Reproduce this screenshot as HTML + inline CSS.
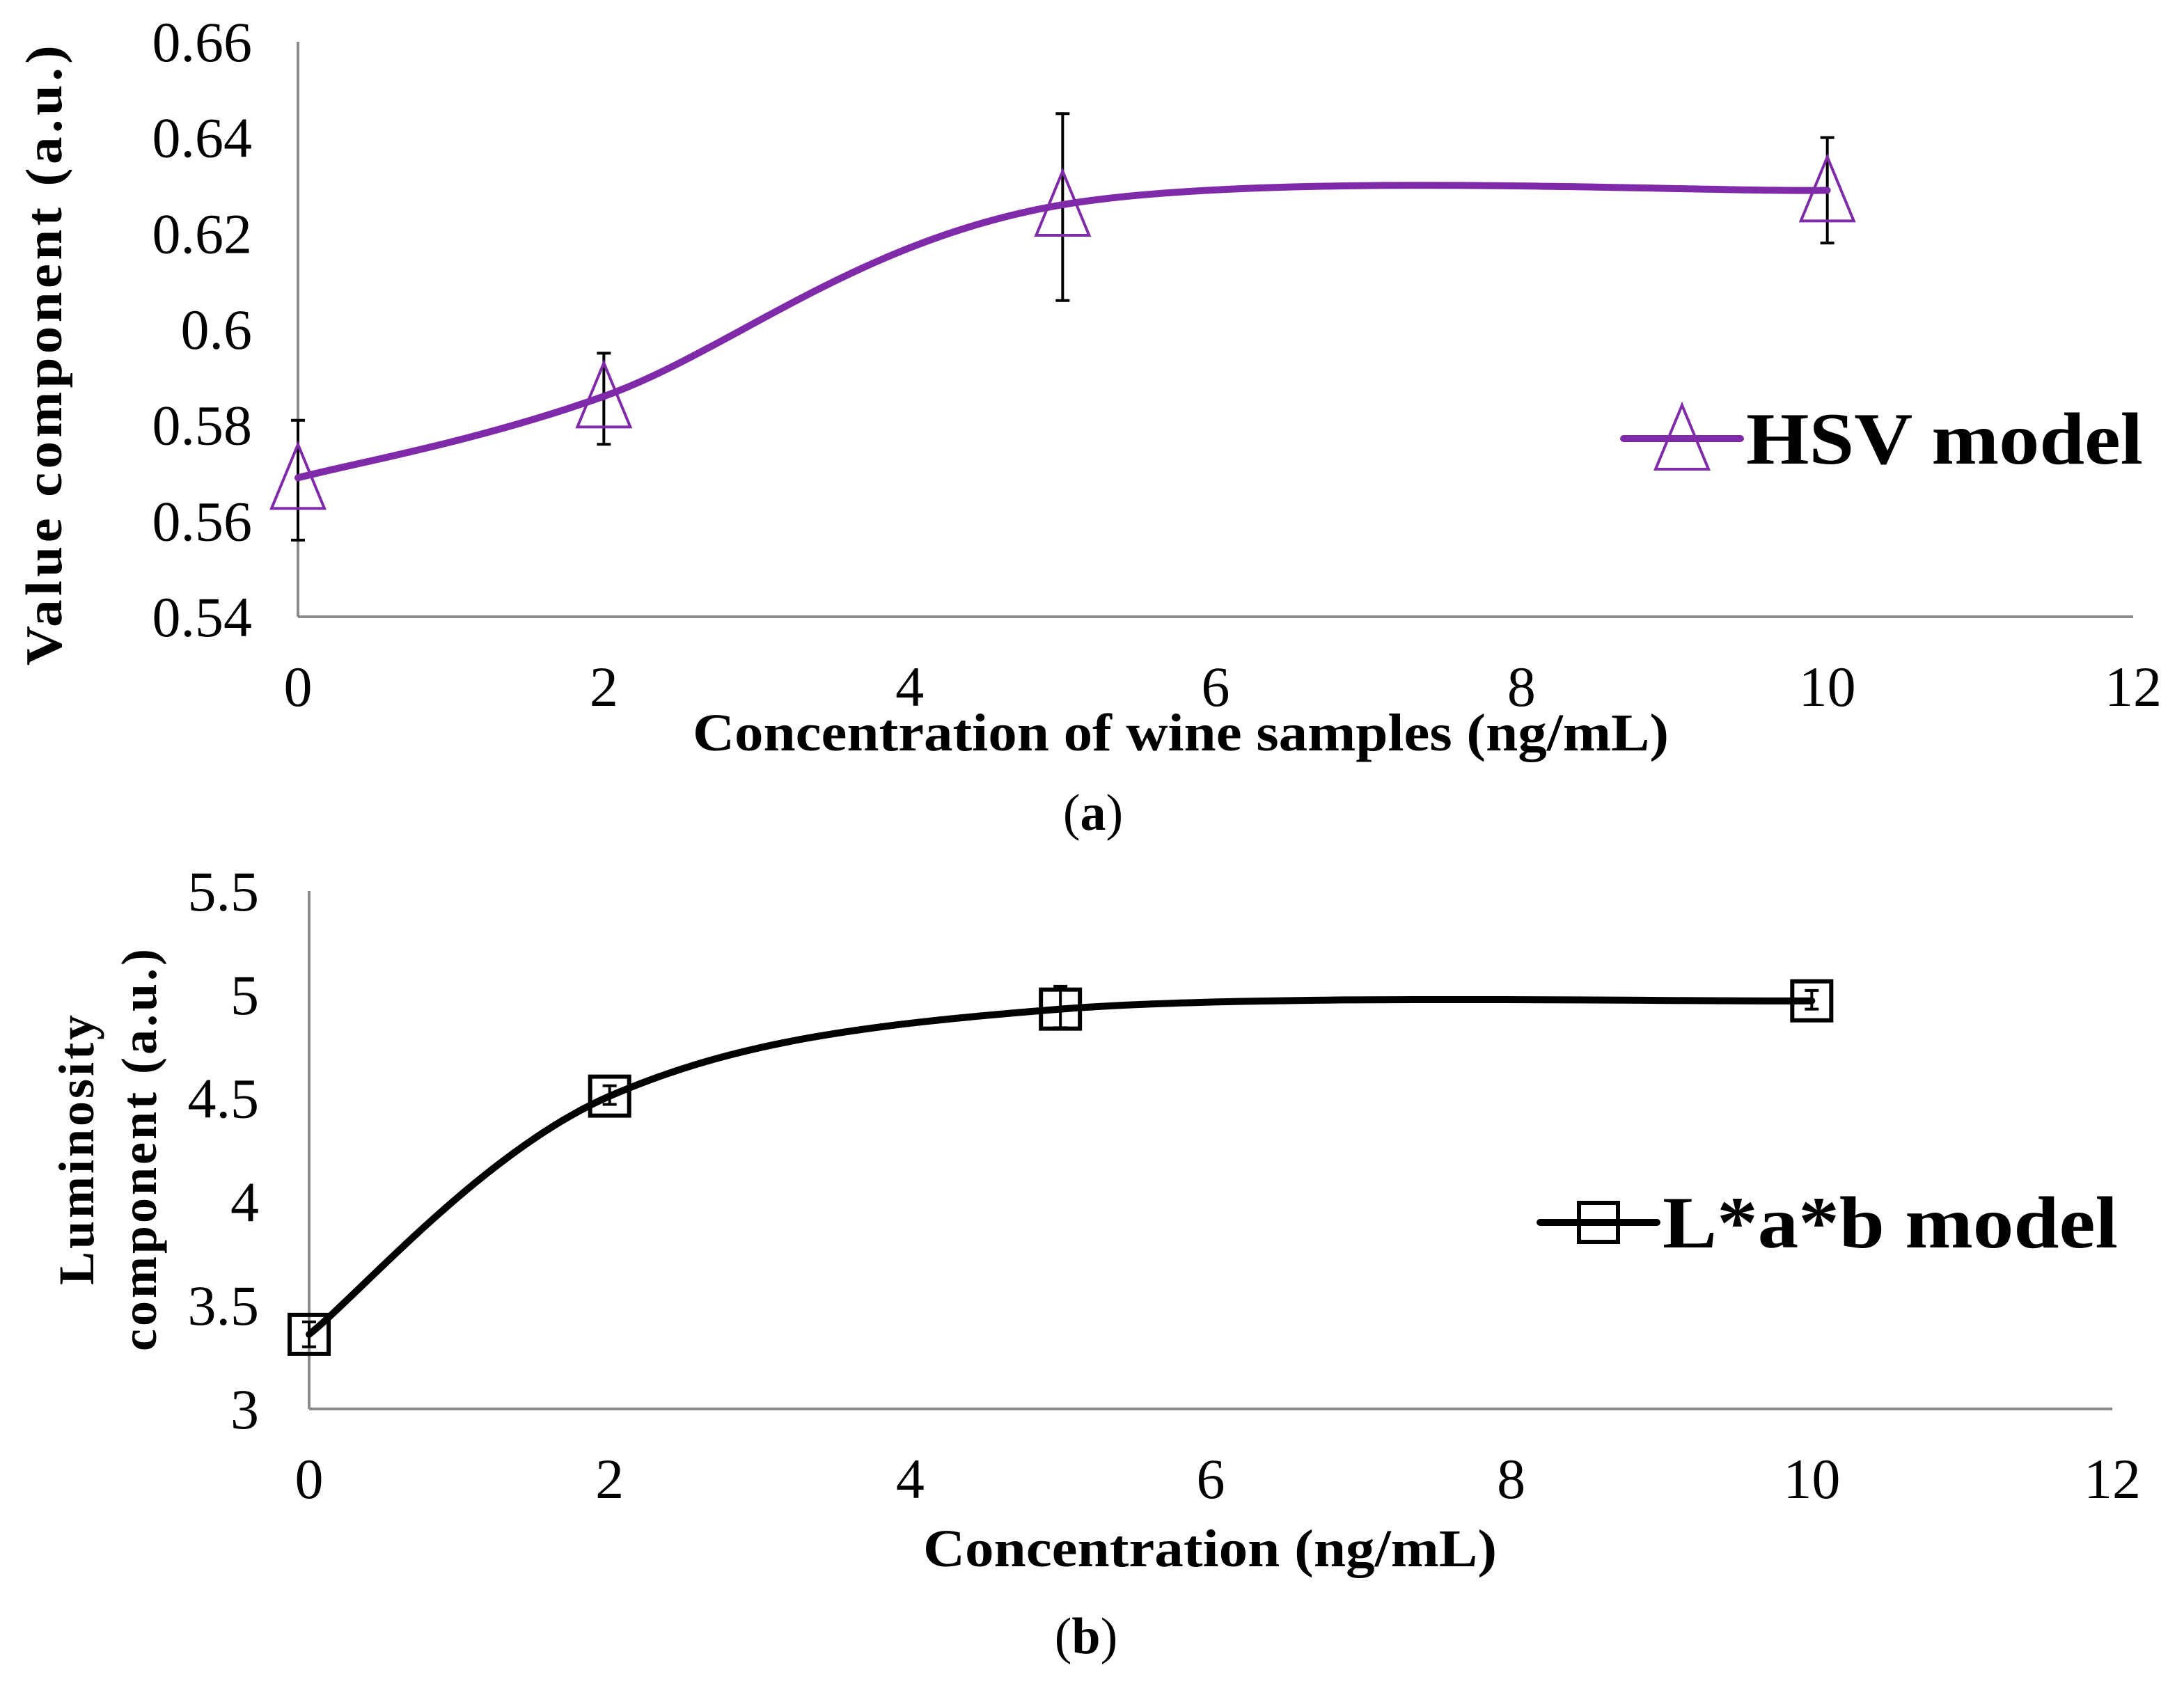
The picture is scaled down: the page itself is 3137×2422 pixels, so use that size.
<!DOCTYPE html>
<html><head><meta charset="utf-8"><style>
html,body{margin:0;padding:0;background:#fff}
svg{display:block}
text{font-family:"Liberation Serif",serif;fill:#000}
</style></head><body>
<svg id="svg" width="3137" height="2422" viewBox="0 0 3137 2422" xmlns="http://www.w3.org/2000/svg">
<g id="A"></g>
<g id="B"></g>
<text x="1570" y="1192" font-size="74" text-anchor="middle">(<tspan font-weight="bold">a</tspan>)</text>
<text x="1560" y="2375" font-size="74" text-anchor="middle">(<tspan font-weight="bold">b</tspan>)</text>
</svg>
<script>
const xCats = [0, 2, 5, 10];
const xTicks = [0, 2, 4, 6, 8, 10, 12];
const hsvValues = [0.569, 0.586, 0.626, 0.629];
const hsvErrLow = [0.556, 0.576, 0.606, 0.618];
const hsvErrHigh = [0.581, 0.595, 0.645, 0.640];
const hsvTicks = [0.54, 0.56, 0.58, 0.6, 0.62, 0.64, 0.66];
const hsvTickLabels = ["0.54","0.56","0.58","0.6","0.62","0.64","0.66"];
const labValues = [3.36, 4.51, 4.93, 4.97];
const labErrLow = [3.30, 4.47, 4.84, 4.93];
const labErrHigh = [3.42, 4.56, 5.04, 5.02];
const labTicks = [3, 3.5, 4, 4.5, 5, 5.5];
const labTickLabels = ["3","3.5","4","4.5","5","5.5"];

const NS = "http://www.w3.org/2000/svg";
function mk(parent, tag, attrs, txt){
  const e = document.createElementNS(NS, tag);
  for (const k in attrs) e.setAttribute(k, attrs[k]);
  if (txt !== undefined) e.textContent = txt;
  parent.appendChild(e); return e;
}
function smooth(pts){
  let d = "M" + pts[0][0] + "," + pts[0][1];
  for (let i = 0; i < pts.length - 1; i++){
    const p0 = pts[Math.max(i-1,0)], p1 = pts[i], p2 = pts[i+1], p3 = pts[Math.min(i+2, pts.length-1)];
    const t = 1/6;
    const c1 = [p1[0] + (p2[0]-p0[0])*t, p1[1] + (p2[1]-p0[1])*t];
    const c2 = [p2[0] - (p3[0]-p1[0])*t, p2[1] - (p3[1]-p1[1])*t];
    d += " C" + c1 + " " + c2 + " " + p2;
  }
  return d;
}
function chart(g, cfg){
  const X = v => cfg.x0 + (v - 0) / 12 * (cfg.x1 - cfg.x0);
  const Y = v => cfg.yb + (v - cfg.ymin) / (cfg.ymax - cfg.ymin) * (cfg.yt - cfg.yb);
  let e;
  e = mk(g, "line", {x1:X(0), y1:cfg.yt, x2:X(0), y2:cfg.yb, stroke:"#8c8c8c", "stroke-width":4});
  
  
  e = mk(g, "line", {x1:X(0), y1:cfg.yb, x2:cfg.x1, y2:cfg.yb, stroke:"#8c8c8c", "stroke-width":4});
  
  
  cfg.yTicks.forEach((v, i) => {
    const t = mk(g, "text", {x:cfg.ylx, y:Y(v)+28, "font-size":82, "text-anchor":"end"}, cfg.yLabels[i]);
    
    
  });
  xTicks.forEach(v => {
    const t = mk(g, "text", {x:X(v), y:cfg.xly, "font-size":82, "text-anchor":"middle"}, String(v));
    
    
  });
  xCats.forEach((c, i) => {
    const x = X(c), y1 = Y(cfg.lo[i]), y2 = Y(cfg.hi[i]);
    const eb = mk(g, "path", {d:`M${x},${y1}V${y2}M${x-10},${y1}H${x+10}M${x-10},${y2}H${x+10}`, stroke:"#000", "stroke-width":4, fill:"none"});
    
    
  });
  const pts = xCats.map((c, i) => [X(c), Y(cfg.vals[i])]);
  e = mk(g, "path", {d:smooth(pts), stroke:cfg.color, "stroke-width":10, fill:"none", "stroke-linecap":"round"});
  
  
  pts.forEach(p => {
    const m = cfg.marker(g, p[0], p[1]);
    
    
  });
  e = mk(g, "line", {x1:cfg.lg[0], y1:cfg.lg[2], x2:cfg.lg[1], y2:cfg.lg[2], stroke:cfg.color, "stroke-width":10, "stroke-linecap":"round"});
  
  
  e = cfg.marker(g, (cfg.lg[0]+cfg.lg[1])/2, cfg.lg[2]);
  
  
  e = mk(g, "text", {x:cfg.lg[1]+8, y:cfg.lg[2]+36, "font-size":106, "font-weight":"bold", textLength:cfg.lgLen, lengthAdjust:"spacingAndGlyphs"}, cfg.legend);
  
  
}
const tri = (g, x, y) => mk(g, "path", {d:`M${x},${y-48}L${x+38},${y+44}L${x-38},${y+44}Z`, fill:"#fff", "fill-opacity":0, stroke:"#7f2aa8", "stroke-width":4});
const sq = (g, x, y) => mk(g, "rect", {x:x-28, y:y-28, width:56, height:56, fill:"none", stroke:"#000", "stroke-width":6});

chart(document.getElementById("A"), {x0:428, x1:3064, yt:60, yb:886, ymin:0.54, ymax:0.66,
  yTicks:hsvTicks, yLabels:hsvTickLabels, ylx:362, xly:1014, vals:hsvValues, lo:hsvErrLow, hi:hsvErrHigh,
  color:"#7f2aa8", marker:tri, lg:[2332, 2500, 630], legend:"HSV model", lgLen:570});
chart(document.getElementById("B"), {x0:444, x1:3034, yt:1280, yb:2024, ymin:3, ymax:5.5,
  yTicks:labTicks, yLabels:labTickLabels, ylx:372, xly:2152, vals:labValues, lo:labErrLow, hi:labErrHigh,
  color:"#000", marker:sq, lg:[2212, 2380, 1756], legend:"L*a*b model", lgLen:654});

const A = document.getElementById("A"), B = document.getElementById("B");
let t;
t = mk(A, "text", {x:0, y:0, "font-size":74, "font-weight":"bold", "text-anchor":"middle", "letter-spacing":"5", textLength:896, lengthAdjust:"spacingAndGlyphs", transform:"translate(88,508) rotate(-90)"}, "Value component (a.u.)");


t = mk(A, "text", {x:1696, y:1078, "font-size":76, "font-weight":"bold", "text-anchor":"middle", textLength:1402, lengthAdjust:"spacingAndGlyphs"}, "Concentration of wine samples (ng/mL)");


t = mk(B, "text", {x:0, y:0, "font-size":72, "font-weight":"bold", "text-anchor":"middle", "letter-spacing":"4", transform:"translate(134,1650) rotate(-90)"}, "Luminosity");


t = mk(B, "text", {x:0, y:0, "font-size":72, "font-weight":"bold", "text-anchor":"middle", "letter-spacing":"4", transform:"translate(224,1650) rotate(-90)"}, "component (a.u.)");


t = mk(B, "text", {x:1738, y:2250, "font-size":76, "font-weight":"bold", "text-anchor":"middle", textLength:824, lengthAdjust:"spacingAndGlyphs"}, "Concentration (ng/mL)");


</script>
</body></html>
